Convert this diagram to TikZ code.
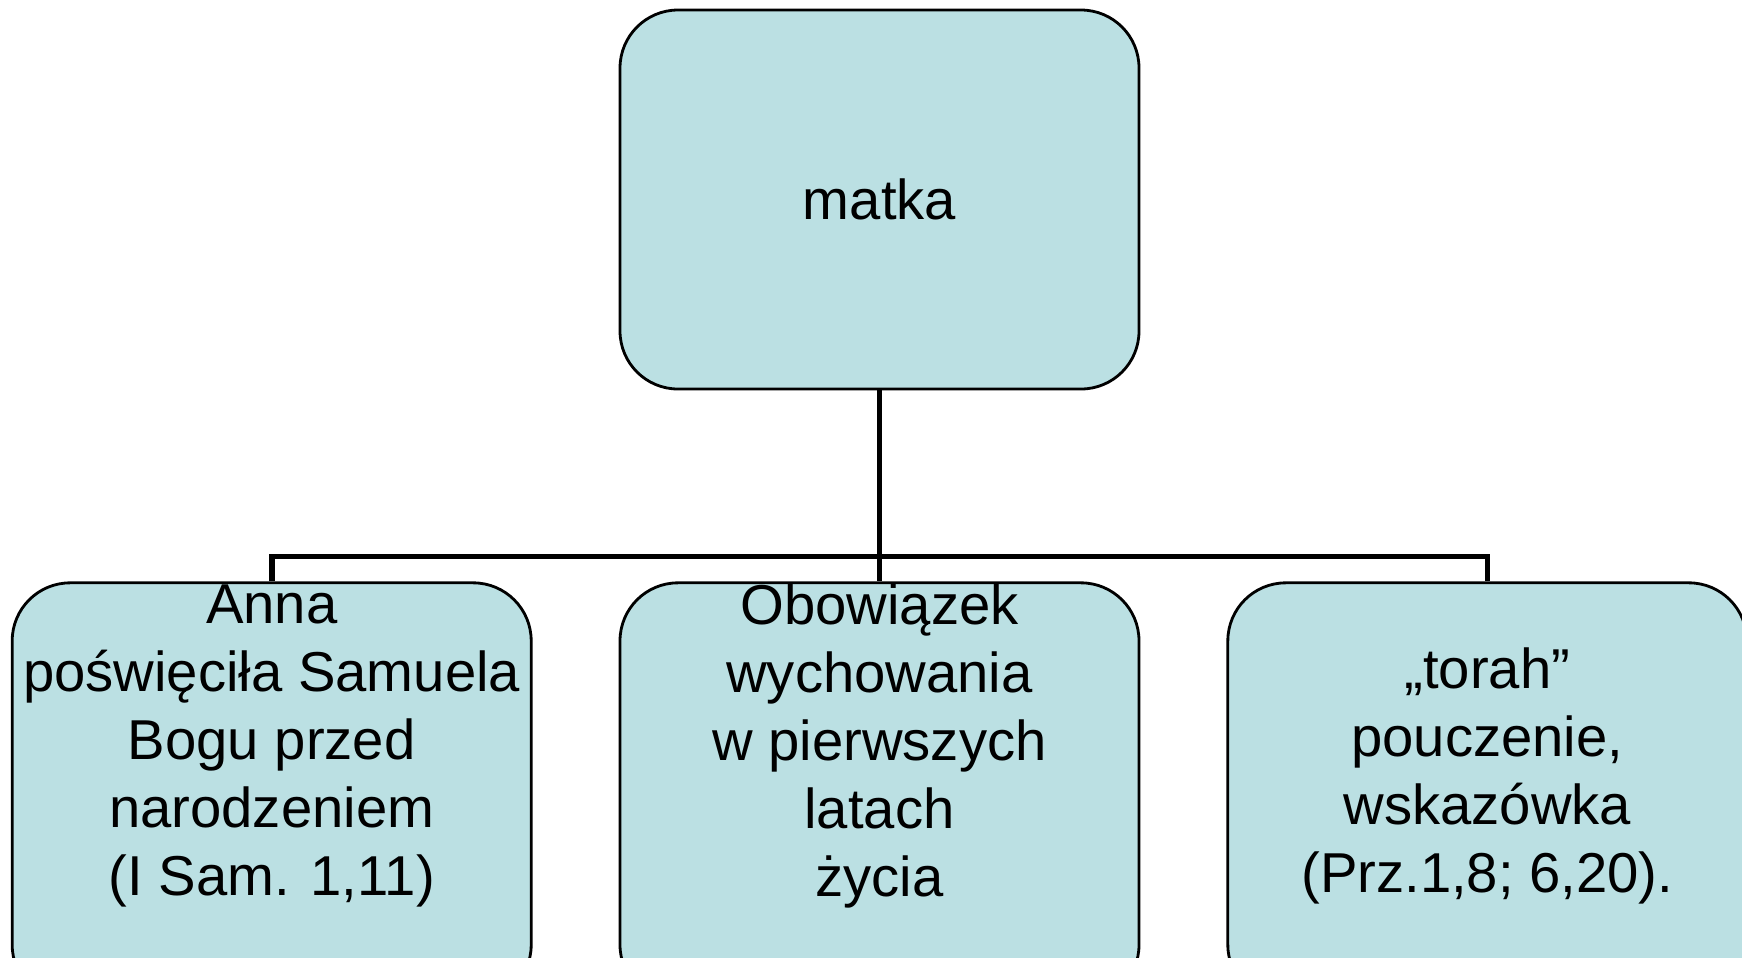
\documentclass[tikz,border=0pt]{standalone}
\usepackage{fontspec}
\setmainfont{Liberation Sans}
\usepackage{tikz}
\usetikzlibrary{positioning,calc}
\definecolor{blado}{RGB}{187,224,227}
\tikzstyle{pole} = [rectangle, rounded corners=0.58cm, minimum width=5.19cm, minimum height=3.79cm, fill=blado, draw=black, line width=0.8pt, text centered, font=\fontsize{16}{19.3}\selectfont]
\tikzstyle{dol} = [pole, minimum height=4.2cm]
\tikzstyle{opis} = [align=center, inner sep=0pt, font=\fontsize{16}{19.3}\selectfont]
\tikzstyle{linia} = [line width=1.6pt]

\begin{document}
\begin{tikzpicture}
	\clip (0,0) rectangle (17.42,-9.57);
	\node (matka) at (8.795,-1.995) [pole] {matka};
	\node (obow) [dol, below=1.91cm of matka] {};
	\node (anna) [dol, left=0.86cm of obow] {};
	\node (torah) [dol, right=0.86cm of obow] {};
	\node (annatxt) at ($(anna.north)+(0,-0.03)$) [opis, anchor=north] {Anna\\poświęciła Samuela\\Bogu przed\\narodzeniem\\(I Sam. 1,11)};
	\node (obowtxt) at ($(obow.north)+(0,-0.02)$) [opis, anchor=north] {Obowiązek\\ wychowania\\w pierwszych\\latach\\życia};
	\node (torahtxt) at ($(torah)+(0,0.17)$) [opis] {„torah”\\pouczenie,\\wskazówka\\(Prz.1,8; 6,20).};
	\draw[linia] (matka.south) -- (obow.north);
	\draw[linia] (anna.north) -- ++(0,0.25) -| (torah.north);
\end{tikzpicture}
\end{document}
